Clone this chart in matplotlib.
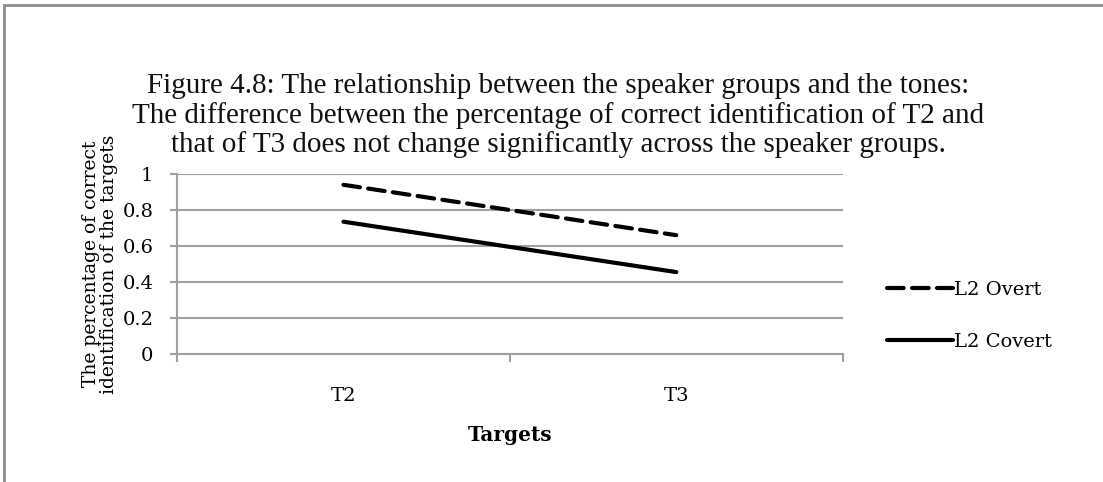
import matplotlib.pyplot as plt
from matplotlib.patches import Rectangle

targets = ["T2", "T3"]
overt = [0.94, 0.66]
covert = [0.735, 0.455]
yticks = [0, 0.2, 0.4, 0.6, 0.8, 1]
ytick_labels = ["0", "0.2", "0.4", "0.6", "0.8", "1"]

title = ("Figure 4.8: The relationship between the speaker groups and the tones:\n"
         "The difference between the percentage of correct identification of T2 and\n"
         "that of T3 does not change significantly across the speaker groups.")

fig = plt.figure(figsize=(11.03, 4.82), dpi=100)
fig.patches.append(Rectangle((0.004, -0.01), 1.2, 1.0, transform=fig.transFigure,
                             fill=False, edgecolor="#8c8c8c", linewidth=2))

ax = fig.add_axes([0.1605, 0.2656, 0.6035, 0.3734])
x = list(range(len(targets)))
grid_col = "#a0a0a0"

ax.plot(x, overt, color="black", lw=3, linestyle=(0, (4, 2)),
        dash_capstyle="round", solid_capstyle="round", label="L2 Overt")
ax.plot(x, covert, color="black", lw=3, solid_capstyle="round", label="L2 Covert")

ax.set_xlim(-0.5, 1.5)
ax.set_ylim(0, 1)
ax.set_yticks(yticks)
ax.set_yticklabels(ytick_labels)
ax.set_xticks(x)
ax.set_xticklabels(targets)
ax.set_xticks([-0.5, 0.5, 1.5], minor=True)
ax.tick_params(axis="x", which="major", length=0, pad=24)
ax.tick_params(axis="x", which="minor", length=6, width=1.5, color=grid_col, direction="out")
ax.tick_params(axis="y", length=5, width=1.5, color=grid_col, direction="out", pad=12)
for lab in ax.get_xticklabels() + ax.get_yticklabels():
    lab.set_family("DejaVu Serif")
    lab.set_fontsize(14)

ax.yaxis.grid(True, color=grid_col, linewidth=1.5)
ax.set_axisbelow(True)
for s in ["top", "right"]:
    ax.spines[s].set_visible(False)
for s in ["left", "bottom"]:
    ax.spines[s].set_color(grid_col)
    ax.spines[s].set_linewidth(1.5)

ax.set_xlabel("Targets", family="DejaVu Serif", fontsize=14.5, fontweight="bold", labelpad=14)
ax.set_ylabel("The percentage of correct\nidentification of the targets",
              family="DejaVu Serif", fontsize=13.5, labelpad=3, linespacing=1.0)

fig.text(0.506, 0.76, title, ha="center", va="center", family="Liberation Serif",
         fontsize=21, linespacing=1.12, color="#111111")

leg = ax.legend(loc="center left", bbox_to_anchor=(1.04, 0.21), frameon=False,
                prop={"family": "DejaVu Serif", "size": 14}, handlelength=3.4,
                handletextpad=0.05, labelspacing=1.75)

fig.savefig("out.png", dpi=100)
